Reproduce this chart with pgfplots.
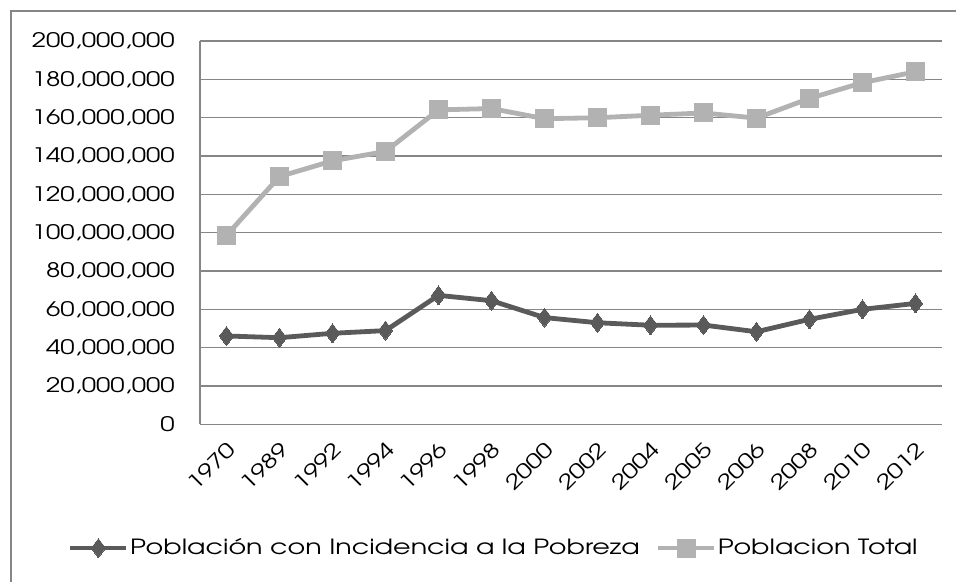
\documentclass[border=0pt]{standalone}
\usepackage{fontspec}
\setmainfont{TeX Gyre Adventor}[FakeStretch=1.29]
\usepackage{pgfplots}
\pgfplotsset{compat=1.18}
\definecolor{gridc}{RGB}{134,134,134}
\definecolor{darkl}{RGB}{90,90,90}
\definecolor{lightl}{RGB}{178,178,178}
\begin{document}
\fontsize{15pt}{18pt}\selectfont
\begin{tikzpicture}
\useasboundingbox (0,0) rectangle (717pt,436.5pt);
\draw[gridc, line width=1.1pt] (8.25pt,0pt) -- (8.25pt,428.25pt) -- (717pt,428.25pt);
\begin{axis}[
  at={(150pt,118.275pt)}, anchor=south west,
  scale only axis, width=556.5pt, height=287.4pt,
  xmin=-0.5, xmax=13.5, ymin=0, ymax=200000000,
  xtick={0,...,13},
  xticklabels={1970,1989,1992,1994,1996,1998,2000,2002,2004,2005,2006,2008,2010,2012},
  ytick={0,20000000,40000000,60000000,80000000,100000000,120000000,140000000,160000000,180000000,200000000},
  scaled y ticks=false,
  /pgf/number format/fixed, /pgf/number format/1000 sep={,}, /pgf/number format/assume math mode=true,
  yticklabel style={anchor=east, inner sep=0pt, xshift=-18.75pt, font=\fontsize{15pt}{18pt}\selectfont},
  xticklabel style={inner sep=0pt, yshift=-16pt, xshift=4pt, rotate=45, anchor=east, font=\fontsize{15pt}{18pt}\selectfont},
  major tick length=0pt,
  axis line style={gridc, line width=1.1pt},
  axis x line*=bottom, axis y line*=left,
  ymajorgrids, grid style={gridc, line width=1.1pt},
  legend columns=2,
  legend style={at={(0.3955,-0.323)}, anchor=center, draw=none, fill=none,
    font=\fontsize{15.7pt}{18pt}\selectfont, inner sep=0pt,
    nodes={inner xsep=1pt},
    /tikz/every odd column/.append style={column sep=0pt},
    /tikz/every even column/.append style={column sep=11pt}},
  legend image code/.code={\draw[mark repeat=2,mark phase=2] plot coordinates {(0pt,0pt) (21pt,0pt) (42pt,0pt)};},
]
\addplot[darkl, line width=3.6pt, mark=diamond*, mark size=7.1pt, mark options={solid, line width=0pt, fill=darkl}] coordinates {
(0,46100000) (1,45200000) (2,47500000) (3,48900000) (4,67300000) (5,64500000) (6,55700000)
(7,53000000) (8,51700000) (9,51800000) (10,48300000) (11,54800000) (12,60000000) (13,63100000)};
\addlegendentry{Población con Incidencia a la Pobreza}
\addplot[lightl, line width=3.6pt, mark=square*, mark size=6.75pt, mark options={solid, line width=0pt, fill=lightl}] coordinates {
(0,98600000) (1,129300000) (2,137500000) (3,142400000) (4,164100000) (5,164800000) (6,159500000)
(7,160000000) (8,161300000) (9,162500000) (10,159800000) (11,170100000) (12,178300000) (13,184000000)};
\addlegendentry{Poblacion Total}
\end{axis}
\end{tikzpicture}
\end{document}
